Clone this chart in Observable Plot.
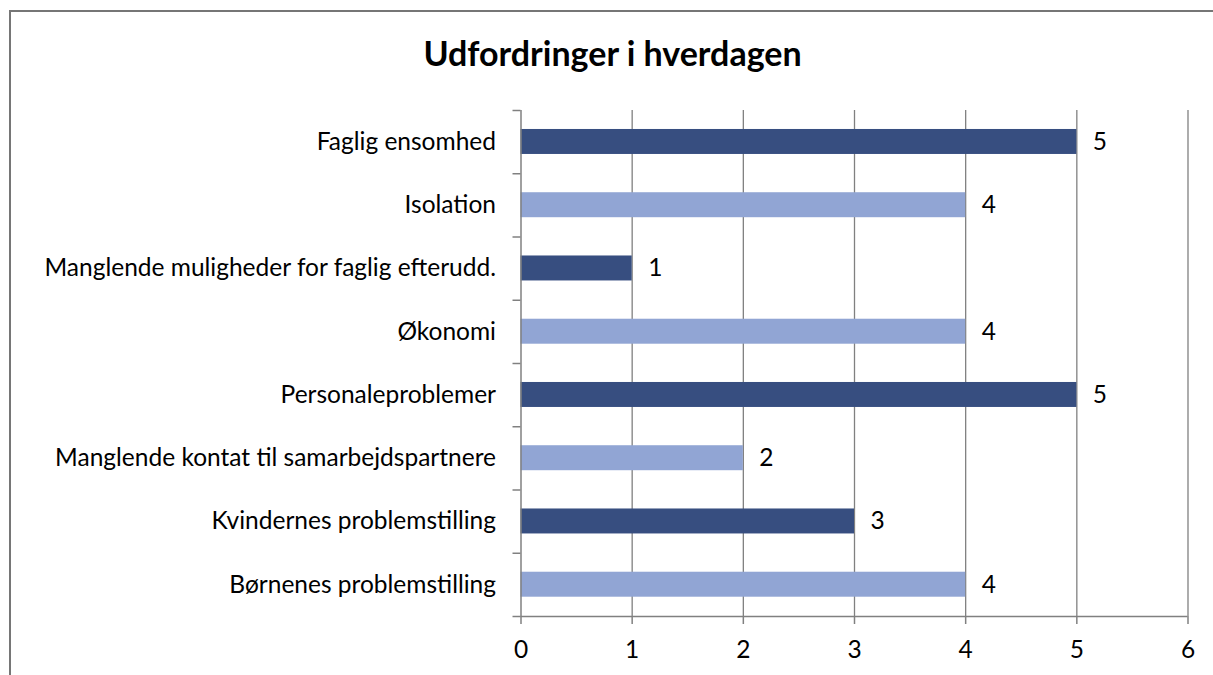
<!DOCTYPE html>
<html>
<head>
<meta charset="utf-8">
<script src="https://cdn.jsdelivr.net/npm/d3@7"></script>
<script src="https://cdn.jsdelivr.net/npm/@observablehq/plot@0.6"></script>
<style>
  html, body { margin: 0; padding: 0; background: #fff; overflow: hidden; }
  #wrap { position: relative; width: 1213px; height: 675px; font-family: Lato, "Open Sans", sans-serif; }
  #frame { position: absolute; left: 9px; top: 10px; width: 1300px; height: 800px; border: 2px solid #767676; box-sizing: border-box; }
  #title { position: absolute; left: 0; width: 1225px; top: 32px; text-align: center; font-weight: bold; font-size: 34px; color: #000; }
  #chart { position: absolute; left: 0; top: 0; }
</style>
</head>
<body>
<div id="wrap">
  <div id="frame"></div>
  <div id="chart"></div>
  <div id="title">Udfordringer i hverdagen</div>
</div>
<script>
const categories = [
  "Faglig ensomhed",
  "Isolation",
  "Manglende muligheder for faglig efterudd.",
  "Økonomi",
  "Personaleproblemer",
  "Manglende kontat til samarbejdspartnere",
  "Kvindernes problemstilling",
  "Børnenes problemstilling"
];
const values = [5, 4, 1, 4, 5, 2, 3, 4];
const shades = ["dark", "light", "dark", "light", "dark", "light", "dark", "light"];
const xTicks = [0, 1, 2, 3, 4, 5, 6];

const data = categories.map((c, i) => ({category: c, index: i, value: values[i], shade: shades[i]}));
const gray = "#808080";

const plot = Plot.plot({
  width: 1213,
  height: 675,
  marginLeft: 520.5,
  marginRight: 25.5,
  marginTop: 110,
  marginBottom: 59,
  style: {fontFamily: "Lato, 'Open Sans', sans-serif", fontSize: "24.5px", color: "#000", background: "transparent"},
  x: {domain: [0, 6], label: null},
  y: {domain: [0, categories.length], reverse: true, label: null},
  color: {domain: ["dark", "light"], range: ["#374e80", "#91a5d4"]},
  marks: [
    Plot.ruleX(xTicks.slice(1), {y1: 0, y2: categories.length, stroke: gray, strokeWidth: 1.3}),
    Plot.rectX(data, {x1: 0, x2: "value", y1: d => d.index + 0.3, y2: d => d.index + 0.695, fill: "shade"}),
    Plot.ruleX([0], {y1: 0, y2: categories.length, stroke: gray, strokeWidth: 1.5}),
    Plot.ruleY([categories.length], {x1: 0, x2: 6, stroke: gray, strokeWidth: 1.5}),
    Plot.axisY(d3.range(categories.length + 1), {tickSize: 8, tickFormat: () => "", stroke: gray, strokeWidth: 1.5, label: null}),
    Plot.axisY(categories.map((c, i) => i + 0.5), {tickSize: 0, tickPadding: 25, tickFormat: v => categories[Math.floor(v)], fill: "#000", label: null}),
    Plot.axisX(xTicks, {tickSize: 8, tickPadding: 16, stroke: gray, strokeWidth: 1.5, fill: "#000", tickFormat: d3.format("d"), label: null}),
    Plot.text(data, {x: "value", y: d => d.index + 0.5, text: d => String(d.value), dx: 16, textAnchor: "start", fill: "#000"})
  ]
});
document.getElementById("chart").appendChild(plot);
</script>
</body>
</html>
